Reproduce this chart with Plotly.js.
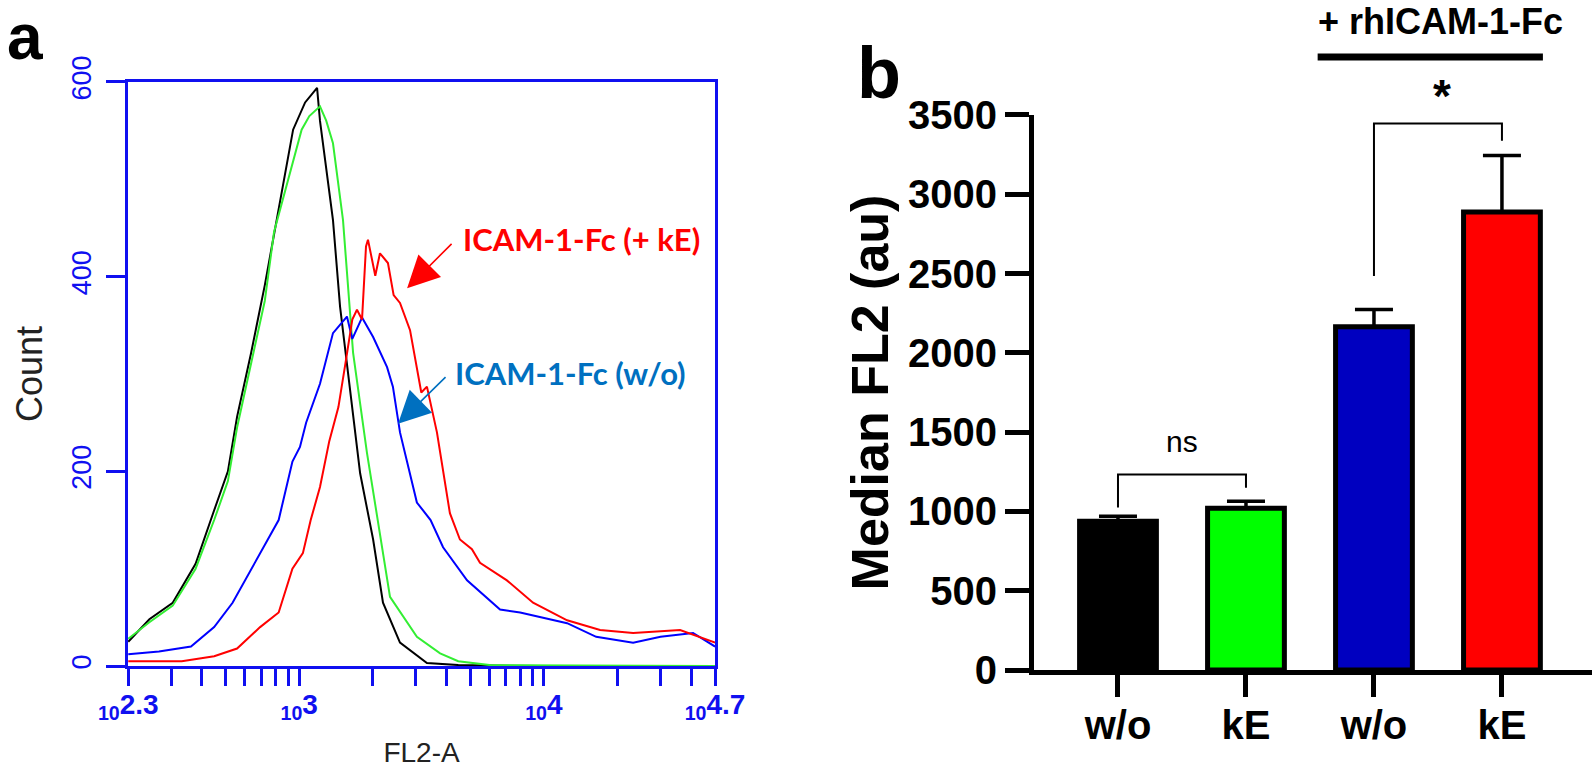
<!DOCTYPE html>
<html>
<head>
<meta charset="utf-8">
<script src="https://cdn.plot.ly/plotly-3.0.1.min.js"></script>
<style>
  html, body { margin: 0; padding: 0; background: #fff; }
  #chart { width: 1594px; height: 769px; }
</style>
</head>
<body>
<div id="chart"></div>
<script>
// === Panel a: FL2-A histograms ===
const fl2Black = [200, 244, 304, 377, 449, 511, 557, 635, 723, 824, 891, 944, 1057, 1183, 1216, 1327, 1374, 1469, 1614, 1774, 2005, 2200, 2582, 3327, 4467, 10000, 50118];
const cntBlack = [25, 48, 65, 105, 160, 200, 256, 321, 391, 471, 520, 551, 579, 594, 560, 491, 458, 369, 281, 198, 130, 65, 24, 3, 1, 0, 0];

const fl2Green = [200, 244, 304, 377, 449, 511, 557, 635, 723, 789, 879, 938, 1023, 1100, 1216, 1290, 1374, 1510, 1660, 1892, 2138, 2350, 3027, 3767, 4467, 6000, 50118];
const cntGreen = [28, 45, 62, 100, 150, 190, 245, 310, 375, 446, 490, 516, 551, 565, 575, 560, 537, 458, 322, 219, 133, 71, 30, 13, 5, 1, 0];

const fl2Blue = [200, 267, 361, 449, 534, 608, 692, 824, 938, 1007, 1067, 1216, 1374, 1510, 1567, 1648, 1806, 2005, 2286, 2415, 2582, 3027, 3443, 3873, 4853, 6621, 8000, 12450, 16368, 23170, 30000, 40740, 50118];
const cntBlue = [12, 15, 20, 40, 65, 90, 115, 150, 210, 225, 250, 290, 342, 355, 359, 336, 358, 338, 307, 287, 240, 168, 150, 122, 88, 58, 55, 44, 30, 24, 30, 34, 20];

const fl2Red = [200, 331, 449, 557, 692, 824, 938, 1035, 1114, 1216, 1327, 1446, 1545, 1648, 1722, 1806, 1875, 1910, 2046, 2138, 2305, 2432, 2582, 2838, 3155, 3327, 3656, 4130, 4539, 5082, 5483, 7063, 9036, 12450, 16980, 23170, 36060, 50118];
const cntRed = [5, 5, 10, 18, 40, 55, 100, 116, 150, 184, 231, 266, 311, 356, 366, 356, 431, 438, 401, 424, 414, 381, 373, 345, 281, 287, 240, 157, 130, 120, 106, 88, 65, 47, 37, 34, 37, 24];

const fl2MajorVals = [200, 1000, 10000, 50118];
const fl2MajorExp = ['2.3', '3', '4', '4.7'];
const fl2MinorVals = [300, 400, 500, 600, 700, 800, 900, 2000, 3000, 4000, 5000, 6000, 7000, 8000, 9000, 20000, 30000, 40000];
const countTicks = [0, 200, 400, 600];

// === Panel b: median FL2 bars ===
const groupPos = [0, 1, 2, 3];
const groupLabels = ['w/o', 'kE', 'w/o', 'kE'];
const medianFL2 = [938, 1020, 2165, 2888];
const semFL2 = [31, 45, 108, 357];
const barColors = ['#000000', '#00ff00', '#0000c0', '#ff0000'];
const nsBracketY = [1025, 1233, 1149];
const starBracketY = [2484, 3447, 3338];

const BLUE = '#1010f0';

function histTrace(x, y, color) {
  return {
    x: x, y: y, type: 'scatter', mode: 'lines',
    line: { color: color, width: 2 },
    xaxis: 'x', yaxis: 'y', hoverinfo: 'skip'
  };
}

const traces = [
  histTrace(fl2Black, cntBlack, '#000000'),
  histTrace(fl2Green, cntGreen, '#33ee33'),
  histTrace(fl2Blue, cntBlue, '#0000ff'),
  histTrace(fl2Red, cntRed, '#ff0000'),
  {
    x: groupPos, y: medianFL2, type: 'bar', width: 0.6,
    marker: { color: barColors, line: { color: '#000', width: 5 } },
    error_y: { type: 'data', symmetric: false, array: semFL2, arrayminus: [0, 0, 0, 0], color: '#000', thickness: 3.5, width: 19 },
    xaxis: 'x2', yaxis: 'y2', hoverinfo: 'skip'
  }
];

const bracketLine = { color: '#000', width: 2 };
const shapes = [
  { type: 'path', xref: 'x2', yref: 'y2', line: bracketLine,
    path: `M ${groupPos[0]} ${nsBracketY[0]} L ${groupPos[0]} ${nsBracketY[1]} L ${groupPos[1]} ${nsBracketY[1]} L ${groupPos[1]} ${nsBracketY[2]}` },
  { type: 'path', xref: 'x2', yref: 'y2', line: bracketLine,
    path: `M ${groupPos[2]} ${starBracketY[0]} L ${groupPos[2]} ${starBracketY[1]} L ${groupPos[3]} ${starBracketY[1]} L ${groupPos[3]} ${starBracketY[2]}` },
  { type: 'line', xref: 'x2', yref: 'paper', x0: 1.56, x1: 3.32, y0: 0.926, y1: 0.926, line: { color: '#000', width: 7 } }
];

const arrowStyle = { showarrow: true, arrowhead: 2, arrowsize: 4, arrowwidth: 1.6, standoff: 0, text: '' };

const annotations = [
  { text: 'a', xref: 'paper', yref: 'paper', x: 0.0157, y: 0.952, xanchor: 'center', yanchor: 'middle', showarrow: false,
    font: { family: 'Liberation Sans', size: 64, weight: 'bold', color: '#000' } },
  { text: 'b', xref: 'paper', yref: 'paper', x: 0.5515, y: 0.905, xanchor: 'center', yanchor: 'middle', showarrow: false,
    font: { family: 'Liberation Sans', size: 72, weight: 'bold', color: '#000' } },
  // red label + arrow
  { text: 'ICAM-1-Fc (+ kE)', xref: 'x', yref: 'y', x: 3.66, y: 439, xanchor: 'left', yanchor: 'middle', showarrow: false,
    font: { family: 'Lato', size: 31, weight: 'bold', color: '#ff0000' } },
  Object.assign({ xref: 'x', yref: 'y', x: 3.441, y: 388, ax: 46, ay: -46, arrowcolor: '#ff0000' }, arrowStyle),
  // blue label + arrow
  { text: 'ICAM-1-Fc (w/o)', xref: 'x', yref: 'y', x: 3.63, y: 301, xanchor: 'left', yanchor: 'middle', showarrow: false,
    font: { family: 'Lato', size: 31, weight: 'bold', color: '#0070c0' } },
  Object.assign({ xref: 'x', yref: 'y', x: 3.404, y: 249, ax: 49, ay: -48, arrowcolor: '#0070c0' }, arrowStyle),
  // significance
  { text: 'ns', xref: 'x2', yref: 'y2', x: 0.5, y: 1440, yanchor: 'middle', showarrow: false,
    font: { family: 'Liberation Sans', size: 30, color: '#000' } },
  { text: '*', xref: 'x2', yref: 'paper', x: 2.53, y: 0.875, yanchor: 'middle', showarrow: false,
    font: { family: 'Liberation Sans', size: 46, weight: 'bold', color: '#000' } },
  { text: '+ rhICAM-1-Fc', xref: 'x2', yref: 'paper', x: 2.52, y: 0.972, yanchor: 'middle', showarrow: false,
    font: { family: 'Liberation Sans', size: 36, weight: 'bold', color: '#000' } }
];

const layout = {
  width: 1594, height: 769,
  margin: { l: 0, r: 0, t: 0, b: 0 },
  paper_bgcolor: '#fff', plot_bgcolor: 'rgba(0,0,0,0)',
  showlegend: false,
  xaxis: {
    type: 'log', range: [2.3, 4.7], domain: [0.0803, 0.4486], anchor: 'y',
    showline: true, linecolor: BLUE, linewidth: 3, mirror: true,
    ticks: 'outside', ticklen: 17, tickwidth: 3, tickcolor: BLUE,
    tickmode: 'array', tickvals: fl2MajorVals,
    ticktext: fl2MajorExp.map(e => '<sub>10</sub>' + e),
    minor: { tickmode: 'array', tickvals: fl2MinorVals, ticks: 'outside', ticklen: 17, tickwidth: 3, tickcolor: BLUE, showgrid: false },
    tickfont: { family: 'Liberation Sans', size: 28, weight: 'bold', color: BLUE },
    ticklabelstandoff: -6,
    showgrid: false, zeroline: false,
    title: { text: 'FL2-A', standoff: 20, font: { family: 'Liberation Sans', size: 28, color: '#222' } }
  },
  yaxis: {
    range: [0, 600], domain: [0.1339, 0.8934], anchor: 'x',
    showline: true, linecolor: BLUE, linewidth: 3, mirror: true,
    ticks: 'outside', ticklen: 19, tickwidth: 3, tickcolor: BLUE,
    tickmode: 'array', tickvals: countTicks, tickangle: -90,
    tickfont: { family: 'Liberation Sans', size: 27, color: BLUE },
    ticklabelstandoff: 4,
    showgrid: false, zeroline: false,
    title: { text: 'Count', standoff: 14, font: { family: 'Liberation Sans', size: 36, color: '#222' } }
  },
  xaxis2: {
    range: [-0.656, 3.703], domain: [0.6487, 0.9987], anchor: 'y2',
    showline: true, linecolor: '#000', linewidth: 5,
    ticks: 'outside', ticklen: 22, tickwidth: 5, tickcolor: '#000',
    tickmode: 'array', tickvals: groupPos, ticktext: groupLabels,
    tickfont: { family: 'Liberation Sans', size: 40, weight: 'bold', color: '#000' },
    ticklabelstandoff: -6,
    showgrid: false, zeroline: false
  },
  yaxis2: {
    range: [0, 3500], domain: [0.1287, 0.8505], anchor: 'x2',
    showline: true, linecolor: '#000', linewidth: 5,
    ticks: 'outside', ticklen: 24, tickwidth: 5, tickcolor: '#000',
    dtick: 500, tick0: 0,
    tickfont: { family: 'Liberation Sans', size: 40, weight: 'bold', color: '#000' },
    showgrid: false, zeroline: false,
    title: { text: 'Median FL2 (au)', standoff: 4, font: { family: 'Liberation Sans', size: 52, weight: 'bold', color: '#000' } }
  },
  shapes: shapes,
  annotations: annotations
};

Plotly.newPlot('chart', traces, layout, { staticPlot: true, displayModeBar: false });
</script>
</body>
</html>
